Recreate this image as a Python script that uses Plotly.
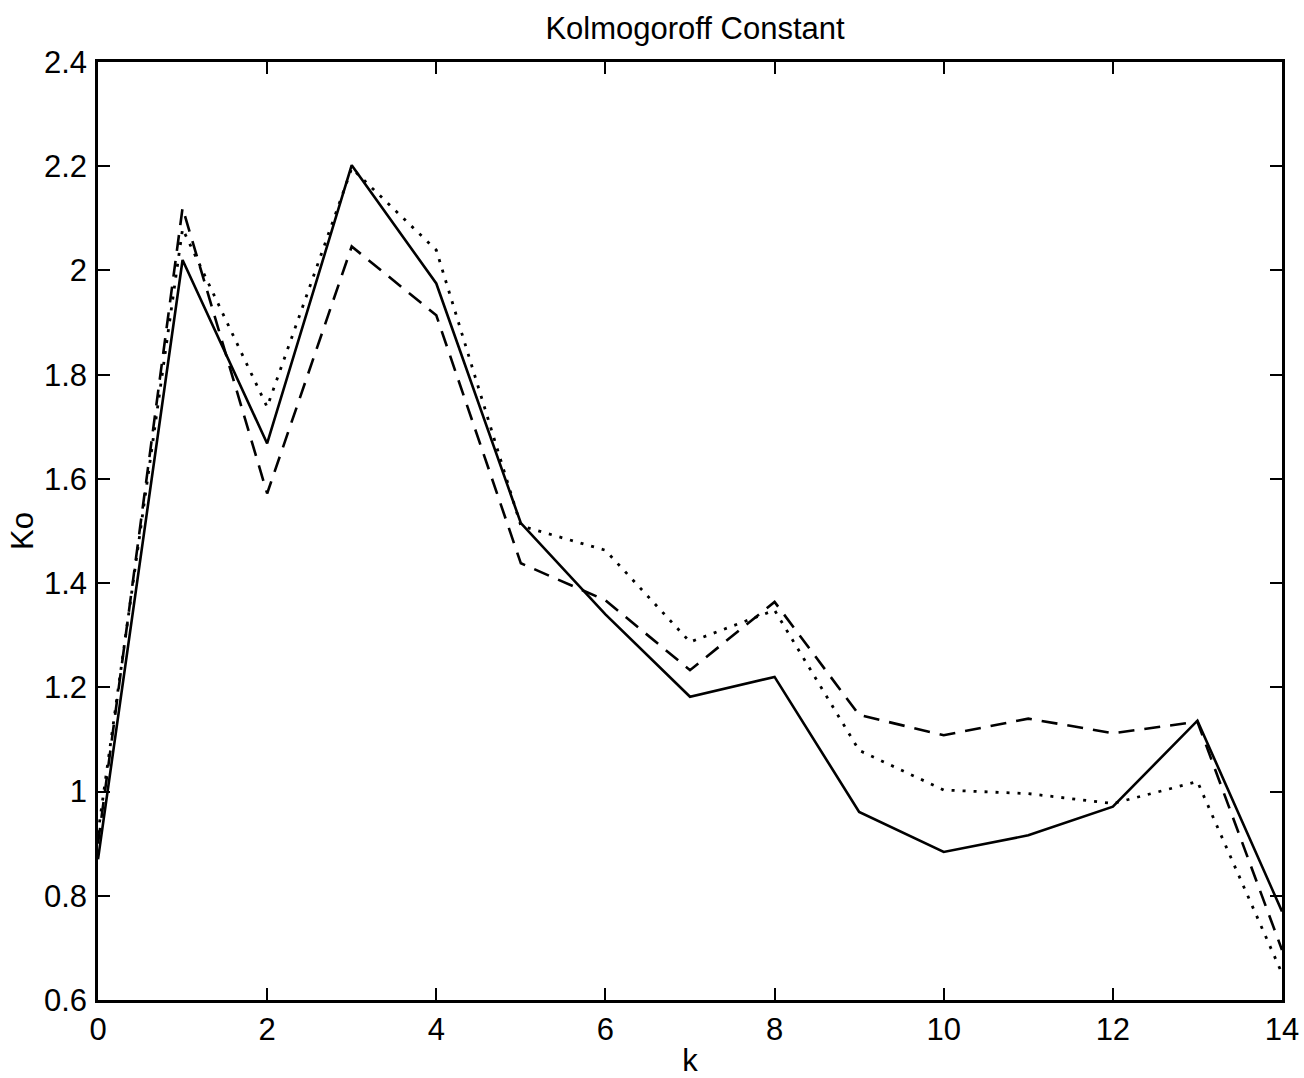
import plotly.graph_objects as go

# Kolmogoroff constant Ko versus k for three estimates
k = list(range(15))
ko_solid = [0.87, 2.02, 1.668, 2.202, 1.975, 1.515, 1.34, 1.182, 1.22, 0.961,
            0.884, 0.916, 0.971, 1.136, 0.77]
ko_dashed = [0.90, 2.12, 1.572, 2.046, 1.914, 1.438, 1.367, 1.233, 1.364, 1.147,
             1.108, 1.14, 1.112, 1.134, 0.696]
ko_dotted = [0.92, 2.08, 1.738, 2.196, 2.039, 1.51, 1.463, 1.287, 1.348, 1.079,
             1.003, 0.996, 0.977, 1.019, 0.651]

x_ticks = list(range(0, 15, 2))
y_ticks = [0.6, 0.8, 1.0, 1.2, 1.4, 1.6, 1.8, 2.0, 2.2, 2.4]
y_tick_text = ["0.6", "0.8", "1", "1.2", "1.4", "1.6", "1.8", "2", "2.2", "2.4"]

font_family = "Liberation Sans, Arial, Helvetica, sans-serif"

fig = go.Figure()
fig.add_trace(go.Scatter(x=k, y=ko_solid, mode="lines",
                         line=dict(color="black", width=2.6, dash="solid")))
fig.add_trace(go.Scatter(x=k, y=ko_dashed, mode="lines",
                         line=dict(color="black", width=2.6, dash="16px,10px")))
fig.add_trace(go.Scatter(x=k, y=ko_dotted, mode="lines",
                         line=dict(color="black", width=2.8, dash="3px,8px")))

axis_common = dict(
    showline=True, linecolor="black", linewidth=2.5, mirror="ticks",
    ticks="inside", ticklen=12, tickwidth=2, tickcolor="black",
    showgrid=False, zeroline=False, automargin=False,
    tickfont=dict(family=font_family, size=31, color="black"),
)

fig.update_layout(
    width=1304, height=1078,
    margin=dict(l=98, r=22, t=62, b=78),
    paper_bgcolor="white", plot_bgcolor="white",
    showlegend=False,
    title=dict(text="Kolmogoroff Constant", x=0.533, xanchor="center",
               y=0.974, yanchor="middle",
               font=dict(family=font_family, size=31, color="black")),
    xaxis=dict(range=[0, 14], tickvals=x_ticks, ticklabelstandoff=0,
               title=dict(text="k", standoff=4,
                          font=dict(family=font_family, size=31, color="black")),
               **axis_common),
    yaxis=dict(range=[0.6, 2.4], tickvals=y_ticks, ticktext=y_tick_text,
               ticklabelstandoff=2,
               title=dict(text="Ko", standoff=2,
                          font=dict(family=font_family, size=31, color="black")),
               **axis_common),
)

fig.write_html("out.html")
